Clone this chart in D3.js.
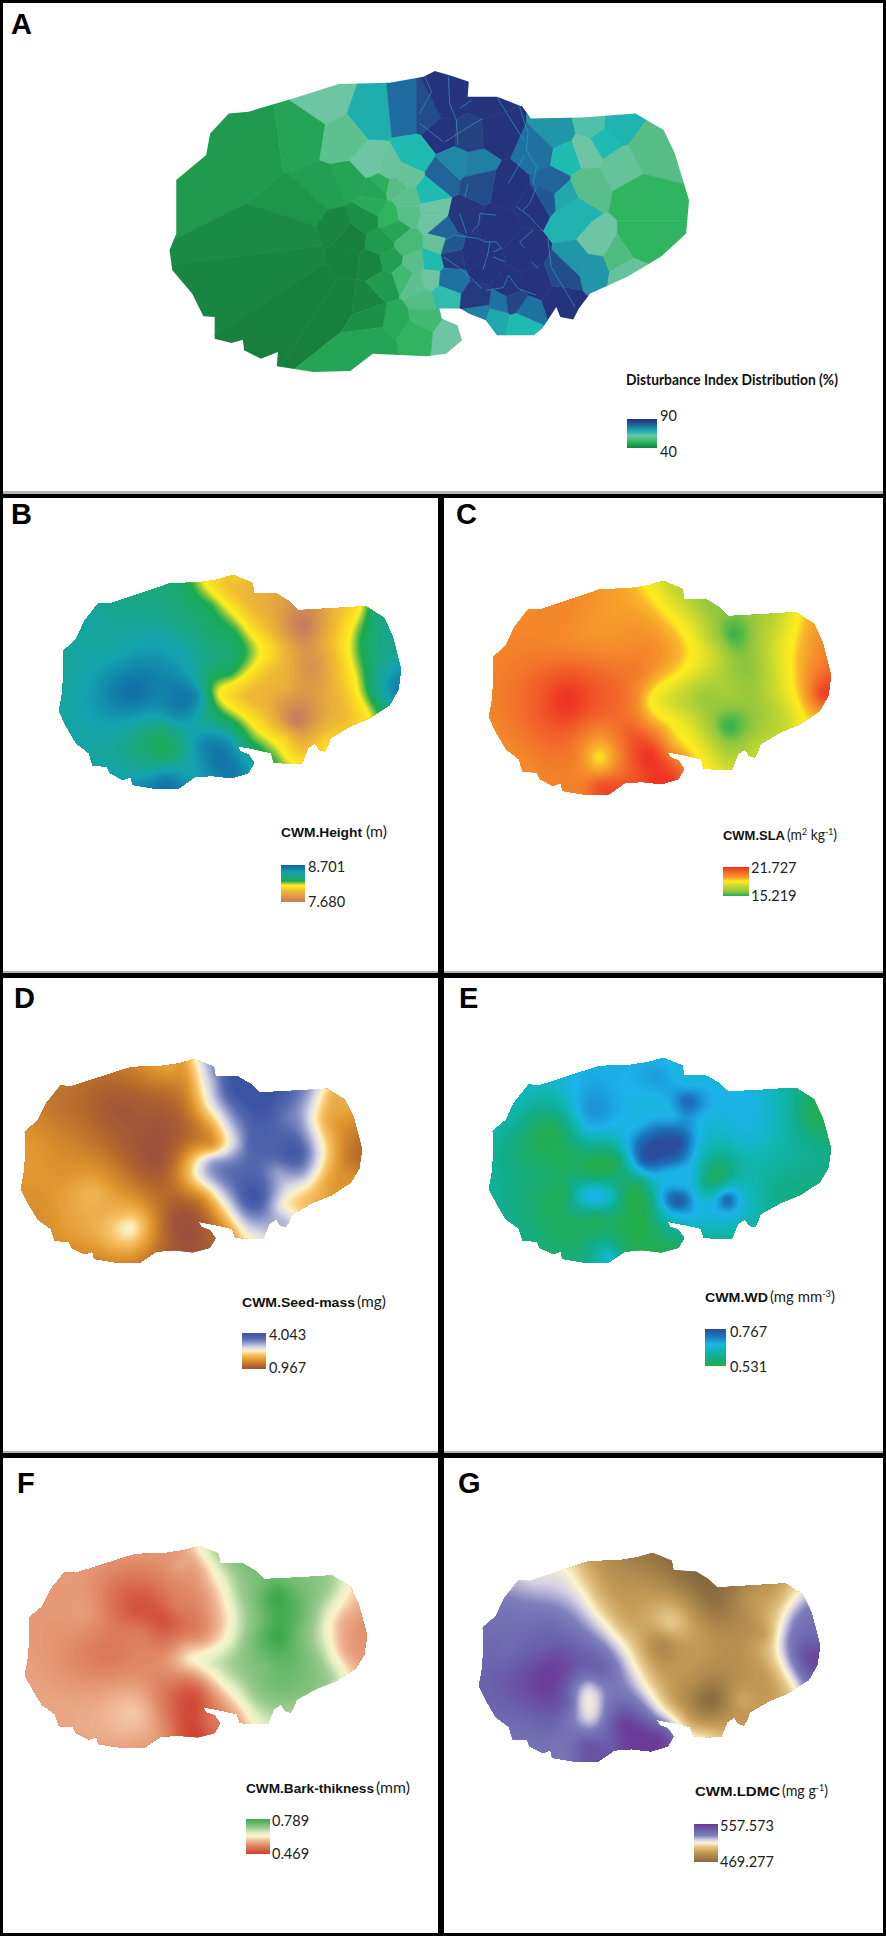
<!DOCTYPE html>
<html><head><meta charset="utf-8">
<style>html,body{margin:0;padding:0;background:#fff}svg{display:block}</style>
<script src="https://cdn.jsdelivr.net/npm/d3@7"></script></head><body>
<svg id="c" width="886" height="1936" viewBox="0 0 886 1936"></svg>
<script>
// Study-area outlines, in map units
const outlineMain=[[770,213],[800,228],[830,245],[828,290],[880,290],[925,320],[940,355],[1030,352],[1125,340],[1175,390],[1195,460],[1220,600],[1215,700],[1170,770],[1110,830],[1045,880],[1025,925],[1015,958],[992,950],[985,920],[960,985],[945,1005],[880,1005],[860,960],[830,940],[815,925],[778,925],[782,955],[810,975],[818,1020],[790,1060],[755,1068],[660,1060],[620,1112],[555,1115],[490,1098],[492,1055],[462,1075],[432,1050],[430,1018],[410,1028],[380,1015],[380,950],[360,948],[340,880],[305,810],[300,750],[312,700],[312,540],[365,465],[372,400],[405,340],[440,335],[520,295],[600,252],[690,248],[750,230]];
const outlineTrait=[[413,256],[447,280],[450,310],[490,312],[512,335],[528,362],[600,355],[648,350],[680,385],[695,440],[710,540],[705,600],[690,645],[655,685],[620,710],[585,745],[580,770],[575,785],[565,780],[558,760],[545,775],[535,820],[510,822],[485,818],[480,790],[455,780],[420,768],[425,785],[440,795],[450,820],[440,850],[410,865],[375,858],[345,862],[315,898],[280,898],[235,885],[232,862],[218,870],[195,850],[190,830],[165,828],[158,790],[135,760],[118,710],[105,665],[110,620],[113,560],[112,485],[135,450],[150,395],[175,340],[195,342],[300,282],[355,278],[385,270]];

// Panel A: disturbance index per polygon [x, y, %]
const disturbanceSites=[[575,300,62],[660,350,69],[720,340,79],[755,340,84],[790,310,90],[785,400,90],[880,400,90],[860,300,90],[900,560,90],[950,610,90],[880,680,90],[930,760,90],[860,800,90],[900,860,90],[950,850,90],[820,650,89],[840,760,90],[800,770,88],[990,900,90],[985,400,73],[953,455,78],[979,550,80],[965,595,82],[1003,470,67],[1038,450,62],[1068,420,67],[1090,380,68],[1050,375,64],[732,470,67],[785,530,80],[808,490,75],[841,500,76],[829,405,86],[847,545,84],[761,580,67],[767,630,62],[1015,630,68],[1009,660,68],[1056,730,62],[1020,780,73],[1050,800,73],[997,820,84],[767,660,62],[782,690,80],[776,730,60],[764,785,67],[796,740,82],[761,835,62],[796,840,78],[785,890,66],[850,935,76],[879,950,70],[923,965,67],[885,910,78],[932,930,78],[911,905,85],[847,900,88],[796,1010,62],[1000,590,70],[1150,455,56],[1100,500,60],[1040,560,57],[1130,590,50],[1130,730,50],[1095,770,55],[1110,815,60],[450,420,45],[535,400,47],[622,543,47],[579,573,46],[548,630,44],[534,704,42],[540,782,41],[565,847,40],[604,889,40],[649,899,41],[676,551,49],[620,720,40],[650,650,43],[590,680,41],[610,780,40],[660,790,41],[655,490,62],[690,510,61],[610,420,58],[665,570,47],[700,560,56],[718,525,60],[720,600,58],[660,620,48],[690,650,50],[720,640,57],[700,690,47],[720,730,54],[675,730,45],[690,780,46],[715,830,53],[680,850,45],[735,790,57],[735,850,58],[750,905,56],[700,960,48],[735,1000,50],[660,950,43],[665,1020,47],[750,950,53]];
const crackLines=[[[752,230],[764,275],[743,340]],[[794,230],[796,310],[808,360],[811,435]],[[788,425],[835,375],[855,355]],[[814,325],[835,300]],[[743,370],[785,425]],[[879,290],[929,425]],[[920,320],[935,400],[932,450],[950,500],[944,550],[950,560],[938,610],[926,630]],[[900,550],[929,465]],[[829,550],[823,590]],[[850,640],[879,645]],[[850,640],[847,675],[835,695]],[[788,720],[805,705],[847,715],[858,725],[879,725]],[[867,725],[864,760],[855,810]],[[879,725],[888,745],[873,755]],[[785,770],[811,800],[835,835],[853,865]],[[861,870],[891,862],[900,825],[917,865],[950,885]],[[970,715],[976,800],[1018,920]],[[915,620],[935,645],[968,705]],[[944,690],[920,725],[929,745]],[[814,640],[826,700]],[[873,770],[894,785]],[[941,785],[953,805]]];

// Panels B-G: sampled trait values [x, y, value]
const heightSites=[[165,376,8.46],[205,486,8.48],[145,586,8.48],[135,686,8.48],[165,776,8.46],[215,846,8.48],[195,356,8.42],[285,316,8.37],[275,426,8.46],[335,536,8.48],[305,686,8.54],[235,611,8.67],[195,611,8.60],[285,611,8.60],[350,616,8.58],[295,751,8.31],[295,786,8.29],[295,711,8.37],[395,811,8.65],[365,756,8.60],[405,756,8.55],[425,826,8.58],[297,868,8.62],[255,856,8.50],[345,866,8.50],[355,486,8.42],[330,281,8.29],[370,346,8.27],[415,426,8.27],[430,481,8.27],[405,546,8.29],[370,600,8.27],[400,680,8.27],[440,750,8.27],[480,810,8.27],[290,300,8.36],[335,370,8.34],[375,440,8.33],[385,495,8.36],[355,560,8.40],[360,690,8.42],[365,278,8.12],[400,340,8.12],[440,420,8.12],[465,480,8.12],[445,540,8.12],[390,610,8.12],[430,670,8.12],[470,730,8.12],[510,800,8.12],[405,286,7.99],[440,346,7.99],[480,426,7.99],[500,480,7.99],[480,546,7.99],[435,610,7.99],[470,670,7.99],[510,730,7.99],[535,776,7.99],[535,411,7.68],[500,346,7.86],[415,260,8.04],[555,536,7.80],[520,701,7.71],[565,626,7.88],[505,586,7.94],[565,456,7.88],[585,676,7.94],[635,360,8.12],[615,450,8.12],[625,560,8.12],[650,680,8.12],[595,360,7.99],[580,450,7.97],[590,560,7.97],[610,680,7.99],[570,745,8.04],[653,366,8.29],[645,456,8.31],[650,560,8.29],[670,656,8.29],[680,456,8.39],[695,536,8.50],[695,586,8.58],[675,626,8.42],[705,506,8.46]];
const slaSites=[[925,420,19.9],[975,470,20.0],[900,520,20.1],[890,620,20.2],[895,700,20.1],[935,800,20.0],[1000,360,19.9],[1030,435,19.6],[1090,340,19.4],[1100,480,19.8],[1130,540,20.1],[1000,630,21.73],[960,630,21.0],[1050,630,21.0],[1125,630,19.8],[1060,800,18.6],[1060,750,19.4],[1060,850,19.6],[1020,800,20.0],[1000,880,20.0],[1150,790,21.7],[1120,730,20.9],[1190,860,21.4],[1060,880,21.1],[1130,860,21.1],[1040,910,20.4],[1105,290,19.25],[1150,380,19.25],[1190,490,19.25],[1160,555,19.25],[1150,690,19.25],[1185,760,19.25],[1215,820,19.5],[1145,280,18.47],[1190,380,18.47],[1225,490,18.47],[1195,560,18.47],[1150,630,18.47],[1190,690,18.47],[1220,760,18.47],[1250,830,18.47],[1185,290,17.5],[1230,380,17.5],[1262,490,17.5],[1235,565,17.5],[1195,630,17.5],[1230,690,17.5],[1255,760,17.5],[1285,825,17.5],[1295,430,15.4],[1250,340,16.4],[1295,360,16.2],[1325,550,16.2],[1285,715,15.4],[1240,610,16.6],[1290,620,16.7],[1340,440,16.7],[1330,760,17.0],[1360,650,16.9],[1410,370,18.47],[1395,480,18.47],[1400,600,18.47],[1420,700,18.47],[1375,380,17.4],[1360,480,17.4],[1365,600,17.4],[1385,700,17.4],[1435,400,19.3],[1428,490,19.4],[1435,600,20.0],[1450,660,19.6],[1465,590,21.4],[1450,610,21.4],[1465,530,20.4]];
const seedSites=[[90,420,1.43],[60,520,1.74],[45,640,1.74],[80,730,1.70],[110,800,1.74],[130,350,1.35],[235,300,1.50],[300,290,1.89],[200,410,1.06],[290,490,1.03],[250,470,1.06],[150,470,1.35],[250,600,1.15],[290,580,1.10],[330,720,1.05],[345,820,1.03],[300,760,1.10],[370,790,1.2],[165,675,2.05],[120,620,1.75],[175,710,1.95],[230,770,2.55],[215,730,2.1],[250,800,2.0],[180,850,1.7],[230,870,1.6],[280,830,1.35],[320,280,1.74],[332,345,1.74],[340,400,1.74],[370,480,1.74],[375,525,1.74],[325,570,1.74],[320,610,1.74],[360,680,1.74],[405,790,1.74],[345,270,2.5],[355,340,2.5],[365,400,2.5],[395,480,2.5],[400,520,2.5],[350,570,2.5],[345,610,2.5],[385,680,2.5],[430,790,2.5],[370,290,3.12],[380,340,3.12],[390,400,3.12],[418,480,3.12],[425,520,3.12],[375,570,3.12],[370,610,3.12],[408,680,3.12],[452,790,2.7],[440,400,4.0],[400,350,3.8],[465,430,3.95],[520,550,3.95],[450,680,4.04],[490,600,3.18],[400,590,3.49],[430,620,3.7],[480,500,3.7],[500,440,3.5],[435,520,3.6],[450,740,3.3],[490,680,3.0],[505,750,3.0],[570,360,2.5],[555,450,2.5],[570,530,2.5],[555,620,2.5],[500,700,2.5],[545,370,3.12],[535,450,3.12],[550,530,3.12],[535,610,3.12],[480,690,3.12],[590,375,1.95],[578,450,1.95],[592,530,1.9],[578,625,1.9],[530,700,2.2],[620,440,1.75],[640,560,1.3],[620,570,1.4],[625,620,1.7],[610,400,2.0]];
const woodSites=[[985,470,.545],[900,470,.60],[910,400,.63],[945,360,.63],[885,540,.59],[870,640,.60],[900,720,.585],[940,800,.575],[960,620,.565],[1030,420,.685],[1020,350,.67],[1100,340,.67],[1160,320,.69],[1150,290,.68],[1215,390,.74],[1215,350,.67],[1180,400,.67],[1260,400,.67],[1240,330,.66],[1100,440,.67],[1040,480,.66],[1175,530,.767],[1140,560,.767],[1200,510,.767],[1160,490,.74],[1190,560,.75],[1110,530,.67],[1230,520,.675],[1125,590,.67],[1200,595,.67],[1190,440,.67],[1235,450,.67],[1130,465,.67],[1175,610,.665],[1225,620,.665],[1150,620,.655],[1320,380,.665],[1290,470,.655],[1310,520,.645],[1370,560,.615],[1432,435,.545],[1400,400,.60],[1430,520,.59],[1460,560,.585],[1440,630,.58],[1380,660,.585],[1350,720,.605],[1000,590,.55],[1090,570,.55],[1130,640,.555],[1100,770,.54],[1000,780,.55],[1150,810,.54],[1150,700,.565],[1190,830,.55],[1052,675,.67],[1052,645,.635],[1052,705,.635],[1022,675,.635],[1082,675,.635],[1052,625,.56],[1052,730,.56],[1005,675,.56],[1100,675,.56],[1200,690,.767],[1175,680,.70],[1225,695,.68],[1200,655,.68],[1200,725,.68],[1285,690,.75],[1285,665,.68],[1265,695,.67],[1305,690,.67],[1280,725,.67],[1265,630,.545],[1240,640,.60],[1270,770,.64],[1330,760,.62],[1220,745,.66],[1300,740,.65],[1270,800,.61],[1075,860,.66],[1050,870,.60],[1100,850,.57],[1000,840,.56]];
const barkSites=[[100,430,.56],[70,530,.56],[60,650,.565],[90,740,.57],[120,810,.575],[150,370,.56],[240,320,.555],[160,490,.56],[160,600,.535],[200,620,.53],[120,600,.55],[215,430,.51],[290,510,.485],[240,480,.49],[310,470,.53],[250,540,.53],[300,600,.55],[240,780,.60],[200,720,.57],[280,700,.54],[190,850,.58],[240,880,.57],[290,860,.55],[345,850,.47],[340,790,.48],[345,730,.49],[370,820,.52],[350,560,.55],[355,420,.56],[320,340,.575],[350,290,.629],[370,340,.629],[395,430,.629],[405,500,.629],[395,570,.629],[335,625,.629],[375,670,.629],[420,750,.629],[445,815,.629],[320,300,.565],[340,345,.565],[362,430,.565],[372,500,.565],[360,565,.565],[300,625,.565],[340,670,.565],[385,740,.565],[415,800,.565],[372,300,.68],[392,340,.69],[418,430,.693],[428,500,.693],[420,575,.693],[375,640,.67],[400,670,.68],[445,745,.693],[470,810,.67],[490,430,.789],[490,560,.789],[460,400,.74],[520,440,.76],[460,500,.74],[530,560,.74],[470,640,.74],[530,680,.74],[510,770,.71],[510,385,.74],[560,440,.72],[560,640,.72],[500,720,.74],[615,420,.629],[585,510,.629],[590,600,.629],[610,660,.629],[590,420,.69],[565,510,.69],[570,600,.69],[590,670,.69],[635,470,.58],[610,510,.58],[612,600,.575],[635,640,.57],[645,590,.56],[600,390,.68]];
const ldmcSites=[[1005,365,513.4],[1035,440,513.4],[1070,520,513.4],[1105,590,513.4],[1130,670,513.4],[1160,750,513.4],[1195,810,513.4],[945,400,521],[990,430,523],[1025,500,527],[1065,570,528],[1095,650,530],[1125,740,530],[1160,800,530],[895,470,535],[970,510,538],[1020,590,542],[1060,670,542],[1090,760,538],[970,680,557],[900,600,540],[880,680,545],[1100,820,555],[1150,880,557],[1170,850,552],[1040,880,548],[1000,650,552],[880,560,540],[930,800,542],[960,880,538],[1000,910,535],[1080,880,545],[960,600,546],[1040,740,515],[1045,790,517],[1040,700,525],[1045,830,528],[1005,760,542],[1080,760,538],[1040,660,542],[1040,350,497],[1065,430,497],[1100,510,497],[1135,590,497],[1160,670,497],[1185,750,497],[1225,830,500],[1160,325,475],[1120,400,488],[1185,520,505],[1260,460,473],[1200,400,478],[1330,440,490],[1170,580,483],[1250,590,490],[1260,745,470],[1310,750,495],[1230,700,485],[1200,640,490],[1300,620,487],[1350,560,490],[1250,850,505],[1320,800,490],[1350,690,490],[1410,430,513],[1385,500,513],[1375,570,513],[1385,650,513],[1405,710,513],[1375,430,495],[1352,500,495],[1345,570,495],[1355,650,495],[1375,720,495],[1425,470,530],[1405,510,530],[1395,570,530],[1405,650,530],[1422,700,530],[1440,610,552],[1430,620,552],[1450,560,540]];

// Colour ramps [value, colour]
const rampDisturbance=[[40,"#17803f"],[45,"#1f9a4e"],[50,"#2fb45f"],[56,"#55bd85"],[62,"#6dc5a3"],[67,"#1fbab0"],[73,"#2196a8"],[79,"#1f6a9e"],[86,"#25417f"],[90,"#25327c"]];
const rampHeight=[[7.68,"#c67a5e"],[7.99,"#f0ba33"],[8.08,"#fbdc24"],[8.14,"#fcee21"],[8.20,"#8fc63f"],[8.26,"#1aab50"],[8.36,"#1aa878"],[8.50,"#14a2b0"],[8.70,"#1165a5"]];
const rampSla=[[15.22,"#1fae4f"],[16.2,"#8fc63f"],[17.5,"#c9d92f"],[18.3,"#f5e824"],[18.6,"#fbec1f"],[19.0,"#f9b82c"],[19.6,"#f5932b"],[20.3,"#f2752b"],[21.73,"#ee3124"]];
const rampSeed=[[.967,"#9c4f3c"],[1.27,"#b4682c"],[1.74,"#e0962e"],[2.2,"#f9c46a"],[2.5,"#fdf3c8"],[2.81,"#d8d9e8"],[3.3,"#7f8cc2"],[3.6,"#5568ae"],[4.043,"#3a53a4"]];
const rampWood=[[.531,"#22ad4a"],[.585,"#14ad8a"],[.625,"#10b6b0"],[.67,"#1cb4ea"],[.72,"#1c75bc"],[.767,"#2b4c9b"]];
const rampBark=[[.469,"#cf3f2f"],[.549,"#e08c68"],[.597,"#f3c0a0"],[.629,"#fbf3c8"],[.661,"#e4efc6"],[.709,"#9ccb8f"],[.789,"#39a849"]];
const rampLdmc=[[469.3,"#85693f"],[491.4,"#c49a55"],[504.6,"#e6c88a"],[513.4,"#fdf6cf"],[520.5,"#d8d2e4"],[531,"#7f7fbc"],[544,"#6a60ab"],[557.6,"#6b3a96"]];

// Legend texts
const panelLetters=["A","B","C","D","E","F","G"];
const legendTitles=["Disturbance Index Distribution (%)","CWM.Height","CWM.SLA","CWM.Seed-mass","CWM.WD","CWM.Bark-thikness","CWM.LDMC"];
const legendUnits=["","(m)","(m^2^ kg^-1^)","(mg)","(mg mm^-3^)","(mm)","(mg g^-1^)"];
const legendHigh=["90","8.701","21.727","4.043","0.767","0.789","557.573"];
const legendLow=["40","7.680","15.219","0.967","0.531","0.469","469.277"];

// Layout
const layout=[
 {lx:11,ly:34,dom:[300,1220,213,1115],px:[169.5,689,71,372],t:[626,212,385],u:[0,0],bar:[627,419,30,29],hy:416,ly2:452,tx:660},
 {lx:11,ly:524,sites:heightSites,ramp:rampHeight,dom:[105,710,256,898],px:[59,401,575,789],t:[281,81,837],u:[366,21],bar:[281,865,24,37],hy:867,ly2:902,tx:308},
 {lx:456,ly:524,sites:slaSites,ramp:rampSla,dom:[865,1470,272,916],px:[489,831,581,795],t:[723,62,840],u:[787,50],bar:[723,867,26,29],hy:868,ly2:896,tx:751},
 {lx:14,ly:1008,sites:seedSites,ramp:rampSeed,dom:[37,640,268,878],px:[21,362,1059,1263],t:[242,113,1307],u:[357,29],bar:[242,1333,24,36],hy:1335,ly2:1368,tx:269},
 {lx:459,ly:1008,sites:woodSites,ramp:rampWood,dom:[865,1470,265,880],px:[489,831,1058,1263],t:[705,63,1302],u:[770,65],bar:[705,1329,21,37],hy:1332,ly2:1367,tx:730},
 {lx:17,ly:1493,sites:barkSites,ramp:rampBark,dom:[45,650,287,895],px:[25,367,1546,1748],t:[246,128,1793],u:[376,34],bar:[246,1819,24,35],hy:1821,ly2:1854,tx:272},
 {lx:458,ly:1493,sites:ldmcSites,ramp:rampLdmc,dom:[848,1452,310,937],px:[479,820,1553,1762],t:[695,85,1796],u:[782,46],bar:[694,1824,24,38],hy:1826,ly2:1862,tx:720}
];

const svg=d3.select("#c");
svg.append("rect").attr("width",886).attr("height",1936).attr("fill","#fff");
const defs=svg.append("defs");
const lineGen=d3.line();

function rampScale(r){return d3.scaleLinear().domain(r.map(d=>d[0])).range(r.map(d=>d[1])).interpolate(d3.interpolateRgb).clamp(true);}
function addGradient(id,r){
  const lo=r[0][0],hi=r[r.length-1][0];
  const g=defs.append("linearGradient").attr("id",id).attr("x1",0).attr("y1",1).attr("x2",0).attr("y2",0);
  g.selectAll("stop").data(r).join("stop").attr("offset",d=>(d[0]-lo)/(hi-lo)).attr("stop-color",d=>d[1]);
}
function addLegend(p,i){
  svg.append("text").attr("x",p.lx).attr("y",p.ly).attr("font-family","Liberation Sans").attr("font-weight","bold").attr("font-size",29).attr("fill","#000").text(panelLetters[i]);
  svg.append("text").attr("x",p.t[0]).attr("y",p.t[2]).attr("font-family",i==0?"Lato":"Liberation Sans").attr("font-weight","bold").attr("font-size",i==0?14.5:13.5)
    .attr("fill","#111").attr("textLength",p.t[1]).attr("lengthAdjust","spacingAndGlyphs").text(legendTitles[i]);
  if(legendUnits[i]){
    const u=svg.append("text").attr("x",p.u[0]).attr("y",p.t[2]).attr("font-family","Lato").attr("font-size",14.5).attr("fill","#222")
      .attr("textLength",p.u[1]).attr("lengthAdjust","spacingAndGlyphs");
    legendUnits[i].split("^").forEach((s,k)=>{
      u.append("tspan").attr("font-size",k%2?9:14.5).attr("dy",k==0?0:(k%2?-5:5)).text(s);
    });
  }
  const b=p.bar;
  svg.append("rect").attr("x",b[0]).attr("y",b[1]).attr("width",b[2]).attr("height",b[3]).attr("fill",`url(#grad${i})`);
  [[legendHigh[i],p.hy],[legendLow[i],p.ly2]].forEach(d=>{
    svg.append("text").attr("x",p.tx).attr("y",d[1]).attr("dy","0.36em").attr("font-family","Lato").attr("font-size",14.5).attr("fill","#222").text(d[0]);
  });
}

// Smooth surface through the sampled sites (thin-plate kernel, light regularisation)
function fitSurface(pts,lambda){
  const N=pts.length, M=N+3, A=[];
  const kern=r2=>r2<=0?0:0.5*r2*Math.log(r2);
  for(let i=0;i<M;i++)A.push(new Float64Array(M+1));
  for(let i=0;i<N;i++){
    for(let j=0;j<N;j++){
      const dx=(pts[i][0]-pts[j][0])/100,dy=(pts[i][1]-pts[j][1])/100;
      A[i][j]=kern(dx*dx+dy*dy)+(i==j?lambda:0);
    }
    const px=pts[i][0]/100,py=pts[i][1]/100;
    A[i][N]=1;A[i][N+1]=px;A[i][N+2]=py;
    A[N][i]=1;A[N+1][i]=px;A[N+2][i]=py;
    A[i][M]=pts[i][2];
  }
  for(let c=0;c<M;c++){
    let best=c;for(let r=c+1;r<M;r++)if(Math.abs(A[r][c])>Math.abs(A[best][c]))best=r;
    const t=A[c];A[c]=A[best];A[best]=t;
    for(let r=c+1;r<M;r++){
      const f=A[r][c]/A[c][c];if(!f)continue;
      for(let k=c;k<=M;k++)A[r][k]-=f*A[c][k];
    }
  }
  const w=new Float64Array(M);
  for(let r=M-1;r>=0;r--){
    let s=A[r][M];for(let k=r+1;k<M;k++)s-=A[r][k]*w[k];
    w[r]=s/A[r][r];
  }
  return (x,y)=>{
    const X=x/100,Y=y/100;let v=w[N]+w[N+1]*X+w[N+2]*Y;
    for(let i=0;i<N;i++){
      const dx=X-pts[i][0]/100,dy=Y-pts[i][1]/100;
      v+=w[i]*kern(dx*dx+dy*dy);
    }
    return v;
  };
}

// Panel A: Voronoi polygons and thin cracks
(function(){
  const p=layout[0];
  addGradient("grad0",rampDisturbance);
  const x=d3.scaleLinear().domain([p.dom[0],p.dom[1]]).range([p.px[0],p.px[1]]);
  const y=d3.scaleLinear().domain([p.dom[2],p.dom[3]]).range([p.px[2],p.px[3]]);
  const color=rampScale(rampDisturbance);
  const lg=d3.line().x(d=>x(d[0])).y(d=>y(d[1]));
  defs.append("clipPath").attr("id","clip0").append("path").attr("d",lg(outlineMain)+"Z");
  const del=d3.Delaunay.from(disturbanceSites,d=>x(d[0]),d=>y(d[1]));
  const vor=del.voronoi([p.px[0]-5,p.px[2]-5,p.px[1]+5,p.px[3]+5]);
  const g=svg.append("g").attr("clip-path","url(#clip0)");
  g.selectAll("path.cell").data(disturbanceSites).join("path").attr("class","cell")
    .attr("d",(d,i)=>vor.renderCell(i)).attr("fill",d=>color(d[2]))
    .attr("stroke",d=>color(d[2])).attr("stroke-width",0.6);
  g.selectAll("path.crack").data(crackLines).join("path").attr("class","crack")
    .attr("d",lg).attr("fill","none").attr("stroke","#2f9fc0").attr("stroke-width",0.8).attr("stroke-opacity",0.85);
  addLegend(p,0);
})();

// Panels B-G: smooth surfaces drawn as filled contour bands
layout.slice(1).forEach((p,k)=>{
  const i=k+1;
  addGradient("grad"+i,p.ramp);
  const [px0,px1,py0,py1]=p.px;
  const x=d3.scaleLinear().domain([p.dom[0],p.dom[1]]).range([px0,px1]);
  const y=d3.scaleLinear().domain([p.dom[2],p.dom[3]]).range([py0,py1]);
  const ox=d3.scaleLinear().domain([105,710]).range([px0,px1]);
  const oy=d3.scaleLinear().domain([256,898]).range([py0,py1]);
  const color=rampScale(p.ramp);
  defs.append("clipPath").attr("id","clip"+i).append("path").attr("d",lineGen.x(d=>ox(d[0])).y(d=>oy(d[1]))(outlineTrait)+"Z");
  const pts=p.sites.map(d=>[x(d[0]),y(d[1]),d[2]]);
  const surf=fitSurface(pts,0.004);
  const lo=p.ramp[0][0],hi=p.ramp[p.ramp.length-1][0];
  const step=1.5, m=Math.ceil((px1-px0)/step)+2, n=Math.ceil((py1-py0)/step)+2;
  const grid=new Float64Array(m*n);
  for(let b=0;b<n;b++)for(let a=0;a<m;a++){
    grid[a+b*m]=Math.max(lo,Math.min(hi,surf(px0+(a-0.5)*step,py0+(b-0.5)*step)));
  }
  const thresholds=d3.range(0,120).map(j=>lo+(hi-lo)*j/120);
  const bands=d3.contours().size([m,n]).smooth(true).thresholds(thresholds)(grid);
  const proj=d3.geoTransform({point(a,b){this.stream.point(px0+(a-0.5)*step,py0+(b-0.5)*step);}});
  const path=d3.geoPath(proj);
  const w=(hi-lo)/240;
  svg.append("g").attr("clip-path",`url(#clip${i})`).selectAll("path").data(bands).join("path")
    .attr("d",path).attr("fill",d=>color(d.value+w));
  addLegend(p,i);
});

// Frame lines
const frameH=[[0,886,0,3,"#000"],[0,886,491,3,"#b5b5b5"],[0,886,494,4,"#000"],[0,886,971,2,"#b5b5b5"],[0,886,973,5,"#000"],[0,886,1451,2,"#b5b5b5"],[0,886,1453,5,"#000"],[0,886,1933,3,"#000"]];
svg.selectAll("rect.fh").data(frameH).join("rect").attr("class","fh").attr("x",d=>d[0]).attr("width",d=>d[1]).attr("y",d=>d[2]).attr("height",d=>d[3]).attr("fill",d=>d[4]);
const frameV=[[0,0,1936,3],[883,0,1936,3],[438,494,1442,6]];
svg.selectAll("rect.fv").data(frameV).join("rect").attr("class","fv").attr("x",d=>d[0]).attr("y",d=>d[1]).attr("height",d=>d[2]).attr("width",d=>d[3]).attr("fill","#000");
</script></body></html>
